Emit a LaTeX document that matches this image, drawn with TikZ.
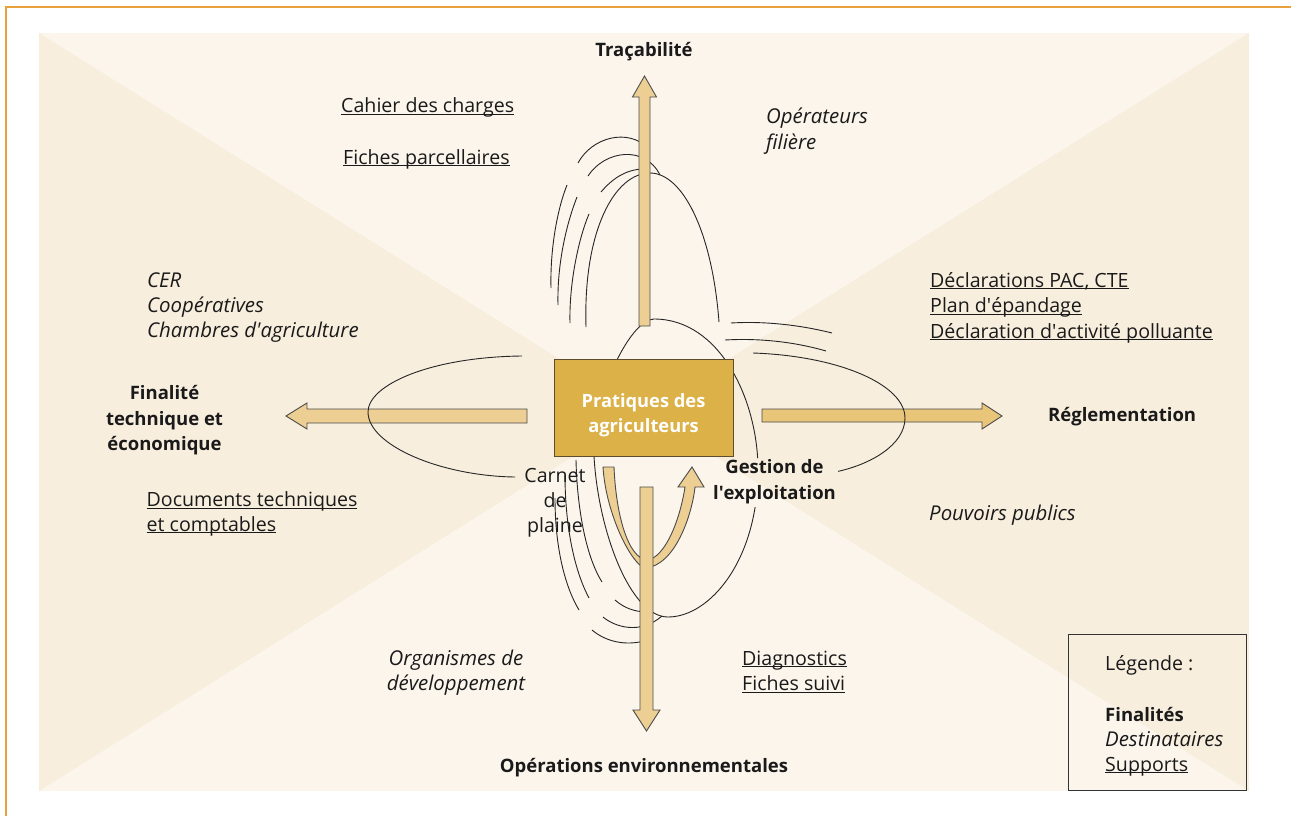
\documentclass[tikz,border=0pt]{standalone}
\usepackage{fontspec}
\setmainfont{Open Sans}
\definecolor{bgA}{HTML}{FBF5EC}
\definecolor{bgB}{HTML}{F8EEDE}
\definecolor{framec}{HTML}{E9A23B}
\definecolor{boxfill}{HTML}{DCB147}
\definecolor{boxdraw}{HTML}{5E4C2C}
\definecolor{arrfill}{HTML}{EDCF94}
\definecolor{arrfillR}{HTML}{E8C579}
\definecolor{arrdraw}{HTML}{4A4A4A}
\definecolor{txt}{HTML}{1A1A1A}
\newcommand\uln[1]{\setbox0=\hbox{#1}\rlap{\rule[-2.2pt]{\wd0}{1.1pt}}\box0}
\newcommand\apos{\textquotesingle}
\tikzset{
  lbl/.style={inner sep=0pt, text=txt, font=\fontsize{19.6}{22}\selectfont},
  finl/.style={inner sep=0pt, text=txt, font=\fontsize{18.5}{22}\selectfont\bfseries},
  dest/.style={inner sep=0pt, text=txt, font=\fontsize{20.4}{22}\selectfont\itshape},
  supp/.style={lbl},
  boxtxt/.style={inner sep=0pt, text=white, font=\fontsize{18.3}{22}\selectfont\bfseries},
  arcline/.style={draw=black!85, line width=0.9pt},
  bigarrow/.style={fill=arrfill, draw=arrdraw, line width=0.9pt, line join=miter},
  legbox/.style={draw=black!80, line width=1.1pt, minimum width=178pt, minimum height=156pt, inner sep=0pt}
}
\begin{document}
\begin{tikzpicture}[x=1pt,y=-1pt]
\useasboundingbox (0,0) rectangle (1291,816);
% background
\fill[bgA] (39,33) rectangle (1249,791);
\fill[bgB] (39,33) -- (644,412) -- (39,791) -- cycle;
\fill[bgB] (1249,33) -- (644,412) -- (1249,791) -- cycle;
\draw[framec, line width=1.5pt] (6,816) -- (6,7) -- (1291,7);
% left and right arrows
\draw[bigarrow] (527,409) -- (307,409) -- (307,403) -- (286,416) -- (307,429) -- (307,423) -- (527,423) -- cycle;
\draw[bigarrow, fill=arrfillR] (762,409) -- (982,409) -- (982,403) -- (1002,416) -- (982,429) -- (982,422) -- (762,422) -- cycle;
% thin arcs
\begin{scope}
\clip (0,0) -- (1291,0) -- (1291,816) -- (0,816) -- cycle (706,458) -- (706,507) -- (838,507) -- (838,458) -- cycle;
% top
\draw[arcline] (586,327) .. controls (583,230) and (615,173) .. (650,173) .. controls (682,173) and (712,230) .. (719,322);
\draw[arcline] (601,192) .. controls (612,179) and (625,170) .. (642,169);
\draw[arcline] (588,176) .. controls (605,150) and (645,145) .. (660,175);
\draw[arcline] (578,163) .. controls (592,137) and (628,128) .. (648,148);
\draw[arcline] (567,185) .. controls (557,210) and (550,250) .. (551,288);
\draw[arcline] (577,197) .. controls (566,225) and (557,265) .. (558,305);
\draw[arcline] (589,214) .. controls (578,240) and (569,285) .. (570,323);
% right
\draw[arcline] (731,323) .. controls (765,321) and (800,325) .. (832,333);
\draw[arcline] (725,340) .. controls (760,338) and (795,342) .. (826,351);
\draw[arcline] (753,353) .. controls (840,356) and (905,385) .. (905,418) .. controls (905,445) and (870,465) .. (835,472);
% left
\draw[arcline] (522,356) .. controls (430,357) and (368,385) .. (368,412) .. controls (368,445) and (440,476) .. (515,477);
% vertical ellipse
\draw[arcline] (654,319) .. controls (720,319) and (758,400) .. (758,470) .. controls (758,560) and (710,617) .. (668,617) .. controls (630,617) and (598,530) .. (594,456) .. controls (591,400) and (630,319) .. (654,319);
% lower left arcs
\draw[arcline] (576,460) .. controls (577,505) and (585,555) .. (602,582);
\draw[arcline] (565,475) .. controls (565,525) and (574,570) .. (589,598);
\draw[arcline] (555,498) .. controls (555,545) and (564,585) .. (579,610);
\draw[arcline] (615,600) .. controls (623,607) and (633,612) .. (648,612);
\draw[arcline] (603,617) .. controls (615,627) and (640,635) .. (662,616);
\draw[arcline] (592,630) .. controls (605,641) and (625,647) .. (648,640);
\end{scope}
% central box
\node[draw=boxdraw, fill=boxfill, line width=1pt, minimum width=179pt, minimum height=97pt, inner sep=0pt] (prat) at (643.5,407.5) {};
\node[boxtxt, anchor=base] (prat1) at (643.5,407) {Pratiques des};
\node[boxtxt, anchor=base] (prat2) at (643.5,432) {agriculteurs};
% U arrow
\draw[bigarrow] (603,467) .. controls (606,515) and (632,565) .. (645,568) .. controls (675,566) and (692,515) .. (695,487) -- (704,487) -- (692,467) -- (678,487) -- (685,487) .. controls (680,520) and (665,558) .. (647,560) .. controls (628,558) and (616,515) .. (614,467) -- cycle;
% down arrow
\draw[bigarrow] (640,487) -- (653,487) -- (653,710) -- (660,710) -- (646.5,731) -- (633,710) -- (640,710) -- cycle;
% up arrow
\draw[bigarrow] (639,326) -- (639,97) -- (632.5,97) -- (644.5,76) -- (656.5,97) -- (650,97) -- (650,326) -- cycle;
% texts
\node[finl, anchor=base] (trac) at (644,57) {Traçabilité};
\node[supp, anchor=base west] (cah) at (341,113) {\uln{Cahier des charges}};
\node[supp, anchor=base west] (fich) at (343,164) {\uln{Fiches parcellaires}};
\node[dest, anchor=base west] (op1) at (766,124) {Opérateurs};
\node[dest, anchor=base west] (op2) at (766,149) {filière};
\node[dest, anchor=base west] (cer) at (147,287) {CER};
\node[dest, anchor=base west] (coop) at (147,312) {Coopératives};
\node[dest, anchor=base west] (cha) at (147,337) {Chambres d\apos agriculture};
\node[finl, anchor=base] (fin1) at (164.5,399) {Finalité};
\node[finl, anchor=base] (fin2) at (164.5,425) {technique et};
\node[finl, anchor=base] (fin3) at (164.5,450) {économique};
\node[supp, anchor=base west] (doc1) at (146.5,506.5) {\uln{Documents techniques}};
\node[supp, anchor=base west] (doc2) at (146.5,531) {\uln{et comptables}};
\node[supp, anchor=base west] (dec1) at (930,287) {\uln{Déclarations PAC, CTE}};
\node[supp, anchor=base west] (dec2) at (930,312.5) {\uln{Plan d\apos épandage}};
\node[supp, anchor=base west] (dec3) at (930,338) {\uln{Déclaration d\apos activité polluante}};
\node[finl, anchor=base west] (regl) at (1048,421.5) {Réglementation};
\node[dest, anchor=base west] (pouv) at (929,520.5) {Pouvoirs publics};
\node[finl, anchor=base] (ges1) at (774.5,473.5) {Gestion de};
\node[finl, anchor=base] (ges2) at (774.5,499) {l\apos exploitation};
\node[lbl, anchor=base] (car1) at (555,482) {Carnet};
\node[lbl, anchor=base] (car2) at (555,507) {de};
\node[lbl, anchor=base] (car3) at (555,532) {plaine};
\node[dest, anchor=base] (org1) at (456,665) {Organismes de};
\node[dest, anchor=base] (org2) at (456,690) {développement};
\node[supp, anchor=base west] (dia1) at (742,665) {\uln{Diagnostics}};
\node[supp, anchor=base west] (dia2) at (742,690.5) {\uln{Fiches suivi}};
\node[finl, anchor=base] (openv) at (644,772) {Opérations environnementales};
% legend
\node[legbox] (leg) at (1157.5,712.5) {};
\node[lbl, anchor=base west] (lg1) at (1105,670.5) {Légende :};
\node[finl, anchor=base west] (lg2) at (1105,721) {Finalités};
\node[dest, anchor=base west] (lg3) at (1105,746.5) {Destinataires};
\node[supp, anchor=base west] (lg4) at (1105,771) {\uln{Supports}};
\end{tikzpicture}
\end{document}
